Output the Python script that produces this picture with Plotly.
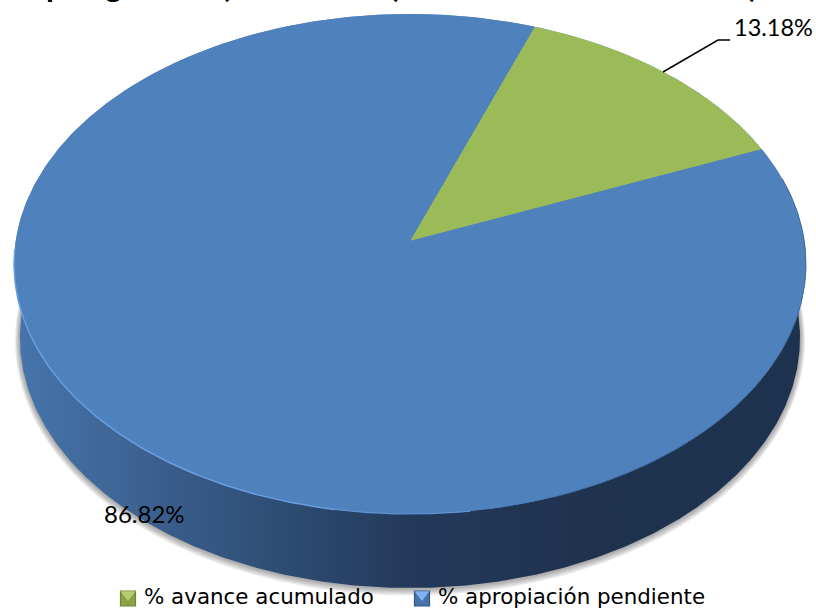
import numpy as np
import plotly.graph_objects as go

labels = ["% avance acumulado", "% apropiación pendiente"]
values = [13.18, 86.82]
value_texts = ["13.18%", "86.82%"]
title_fragments = ["p", "g", "(", ")", ")"]
title_x = [55, 113, 225, 397, 753]

# Projection of the disc into page pixels
APEX_X, APEX_Y = 410.0, 241.0
SCALE_X, SCALE_Y, PERSP = 394.3, 247.9, -0.092
START_DEG = 20.0
DEPTH = 74.0
BASE_SCALE = 0.985


def project(theta, depth=0.0, scale=1.0, grow=0.0):
    """theta: radians clockwise from 12 o'clock on the flat disc."""
    x, y = np.sin(theta), -np.cos(theta)
    d = 1 + PERSP * y
    return (APEX_X + (SCALE_X * scale + grow) * x / d,
            APEX_Y + (SCALE_Y + grow) * y / d + depth)


def wedge(a0, a1):
    t = np.radians(np.linspace(a0, a1, 400))
    px, py = project(t)
    return np.r_[APEX_X, px, APEX_X], np.r_[APEX_Y, py, APEX_Y]


fig = go.Figure()

# soft shadow below the base
for g in [5, 4, 3, 2, 1]:
    t = np.radians(np.linspace(0, 360, 500))
    sx, sy = project(t, DEPTH + 0.4 * g, BASE_SCALE, g)
    fig.add_trace(go.Scatter(x=sx, y=sy, mode="lines", fill="toself", line_width=0,
                             fillcolor="rgba(60,60,60,0.10)", hoverinfo="skip", showlegend=False))

# side wall: only the near half, the disc hides the chord
ends = np.radians(np.array([270.0, 90.0]))
near = np.radians(np.linspace(90, 270, 300))
tx, ty = project(ends)
bx, by = project(near, DEPTH, BASE_SCALE)
fig.add_trace(go.Scatter(
    x=np.r_[tx, bx], y=np.r_[ty, by], mode="lines", fill="toself", line_width=0,
    fillgradient=dict(type="horizontal", colorscale=[
        [0.0, "#4675ac"], [0.11, "#3f6899"], [0.22, "#375a87"], [0.36, "#2c4a70"],
        [0.5, "#24395a"], [0.72, "#1f334f"], [1.0, "#1d324e"]]),
    hoverinfo="skip", showlegend=False))

# slices, over a disc of the larger slice's colour so no seam shows
colors = ["#9bbb59", "#4f81bd"]
dx, dy = project(np.radians(np.linspace(0, 360, 800)))
fig.add_trace(go.Scatter(x=dx, y=dy, mode="lines", fill="toself", fillcolor=colors[1],
                         line_width=0, hoverinfo="skip", showlegend=False))
angle = START_DEG
for name, val, col in zip(labels, values, colors):
    span = val / sum(values) * 360
    wx, wy = wedge(angle, angle + span)
    fig.add_trace(go.Scatter(x=wx, y=wy, mode="lines", fill="toself", fillcolor=col,
                             line_width=0, name=name, text=f"{val}%", hoverinfo="name+text",
                             showlegend=False))
    angle += span

# rim highlight on the front edge, fading to the right
for a0, a1, col, w in [(268, 190, "#6a9fe0", 1.5), (190, 172, "#5f93d2", 1.2)]:
    rx, ry = project(np.radians(np.linspace(a0, a1, 120)))
    fig.add_trace(go.Scatter(x=rx, y=ry, mode="lines", line=dict(color=col, width=w),
                             hoverinfo="skip", showlegend=False))
rx, ry = project(np.radians(np.linspace(75, 160, 160)))
fig.add_trace(go.Scatter(x=rx, y=ry, mode="lines", line=dict(color="#3f6a9e", width=1),
                         hoverinfo="skip", showlegend=False))

# legend swatches with bevel, and their labels
SWATCH_Y = 598.5
SWATCH_X = [128, 422]
TEXT_X = [142, 436]
sw_edge = ["#6e8636", "#2f5585"]
sw_mid = ["#8aa34b", "#4773a8"]
sw_light = ["#b4ce72", "#7fb2ee"]
for lx, tx_, name, d, m, l in zip(SWATCH_X, TEXT_X, labels, sw_edge, sw_mid, sw_light):
    fig.add_trace(go.Scatter(x=[lx], y=[SWATCH_Y], mode="markers",
                             marker=dict(symbol="square", size=15, color=m, line=dict(color=d, width=1.2)),
                             hoverinfo="skip", showlegend=False))
    fig.add_trace(go.Scatter(x=[lx], y=[SWATCH_Y - 4], mode="markers",
                             marker=dict(symbol="triangle-down", size=13, color=l),
                             hoverinfo="skip", showlegend=False))
    fig.add_annotation(x=tx_, y=596.5, text=name, showarrow=False, xanchor="left",
                       font=dict(family="DejaVu Sans", size=21.4, color="#000000"))

# value labels
fig.add_annotation(x=773.5, y=27, text=value_texts[0], showarrow=False,
                   font=dict(family="Lato", size=23.5, color="#000000"))
fig.add_annotation(x=144, y=513, text=value_texts[1], showarrow=False,
                   font=dict(family="Lato", size=24, color="#000000"))

# chart title, cut off by the top of the page: only descenders remain
for ch, x in zip(title_fragments, title_x):
    fig.add_annotation(x=x, xref="x", y=1 + 16 / 609, yref="paper", text=ch, showarrow=False,
                       yanchor="middle",
                       font=dict(family="Lato", size=32, color="#000000", weight="bold"))

fig.update_layout(
    width=816, height=609, margin=dict(l=0, r=0, t=0, b=0),
    paper_bgcolor="#ffffff", plot_bgcolor="#ffffff", showlegend=False,
    xaxis=dict(range=[0, 816], visible=False, fixedrange=True),
    yaxis=dict(range=[609, 0], visible=False, fixedrange=True),
    shapes=[dict(type="path", path="M 663 72 L 718 40 L 730 40",
                 line=dict(color="#000000", width=1.5))],
)
fig.write_html("out.html", config={"displayModeBar": False},
               post_script="document.body.style.margin='0';document.body.style.overflow='hidden';")
